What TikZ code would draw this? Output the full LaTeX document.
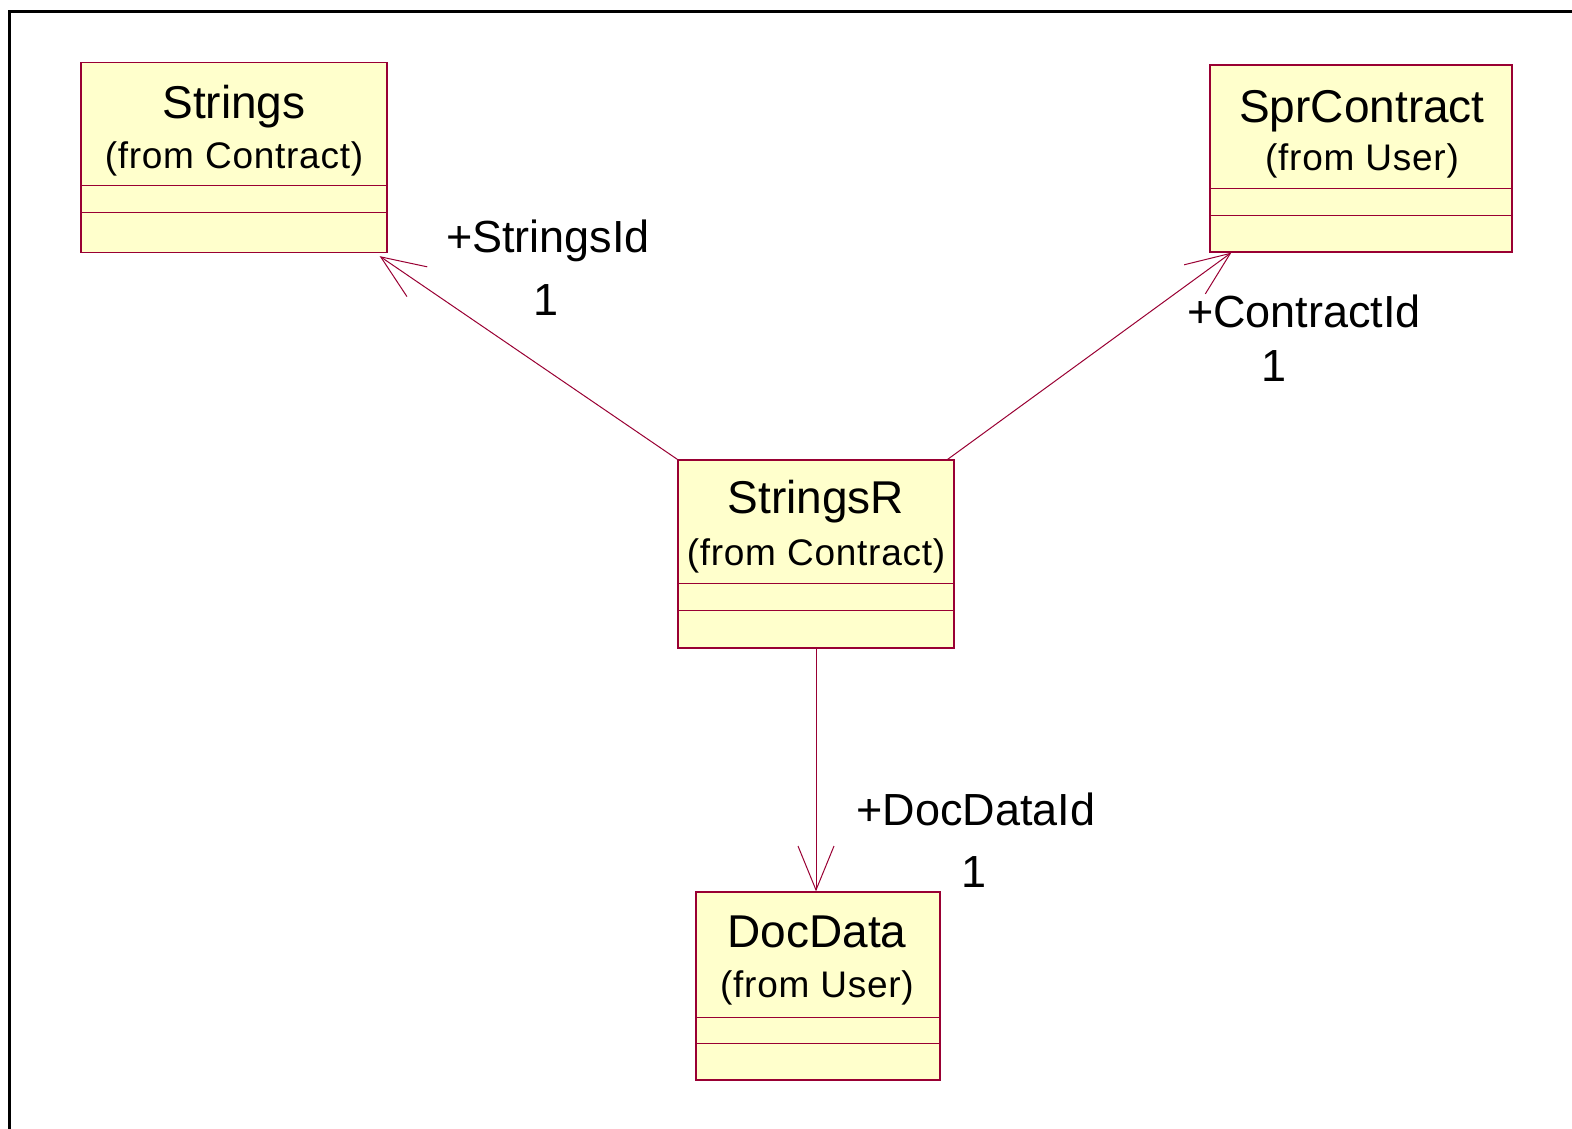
\documentclass[tikz,border=0pt]{standalone}
\usepackage{fontspec}
\setmainfont{Liberation Sans}
\newfontfamily\subfont[LetterSpace=2]{Liberation Sans}
\usetikzlibrary{arrows.meta}
\definecolor{roseline}{RGB}{153,0,51}
\definecolor{rosefill}{RGB}{255,255,204}
\tikzset{
  cls/.style={draw=roseline, fill=rosefill, line width=1.3pt, inner sep=0pt},
  ttl/.style={font=\fontsize{46}{50}\selectfont, inner sep=0pt, anchor=base},
  sub/.style={font=\subfont\fontsize{37}{40}\selectfont, inner sep=0pt, anchor=base},
  lbl/.style={font=\fontsize{45}{50}\selectfont, inner sep=0pt, anchor=base},
  assoc/.style={draw=roseline, line width=1pt, -{Straight Barb[length=44pt,width=36pt]}},
  compsep/.style={draw=roseline, line width=1pt},
  frame/.style={draw=black, line width=3pt}
}
\begin{document}
\begin{tikzpicture}[x=1pt,y=-1pt]
\useasboundingbox (0,0) rectangle (1572,1128);
% outer frame
\draw[frame] (9,1140) -- (9,11) -- (1585,11);

% Strings
\node[cls, minimum width=306pt, minimum height=190pt] (strings) at (234,157.5) {};
\draw[compsep] (81,185) -- (387,185);
\draw[compsep] (81,212) -- (387,212);
\node[ttl] (stringsT) at (234,118) {Strings};
\node[sub] (stringsS) at (234,168) {(from Contract)};

% SprContract
\node[cls, minimum width=302pt, minimum height=187pt] (spr) at (1361,158.5) {};
\draw[compsep] (1210,188) -- (1512,188);
\draw[compsep] (1210,215) -- (1512,215);
\node[ttl] (sprT) at (1362,122) {SprContract};
\node[sub] (sprS) at (1362,170) {(from User)};

% StringsR
\node[cls, minimum width=276pt, minimum height=188pt] (sr) at (816,554) {};
\draw[compsep] (678,583) -- (954,583);
\draw[compsep] (678,610) -- (954,610);
\node[ttl] (srT) at (816,513) {StringsR};
\node[sub] (srS) at (816,565) {(from Contract)};

% DocData
\node[cls, minimum width=244pt, minimum height=188pt] (dd) at (818,986) {};
\draw[compsep] (696,1017) -- (940,1017);
\draw[compsep] (696,1043) -- (940,1043);
\node[ttl] (ddT) at (817,947) {DocData};
\node[sub] (ddS) at (817,997) {(from User)};

% connectors
\draw[assoc] (sr.north west) -- ([xshift=-8pt,yshift=-3pt]strings.south east);
\draw[assoc] ([xshift=-7pt]sr.north east) -- ([xshift=22pt]spr.south west);
\draw[assoc] (sr.south) -- (sr.south |- dd.north);

% role labels
\node[lbl] (l1) at (548,252) {+StringsId};
\node[lbl] (m1) at (546,315) {1};
\node[lbl] (l2) at (1304,327) {+ContractId};
\node[lbl] (m2) at (1274,381) {1};
\node[lbl] (l3) at (976,825) {+DocDataId};
\node[lbl] (m3) at (974,887) {1};
\end{tikzpicture}
\end{document}
